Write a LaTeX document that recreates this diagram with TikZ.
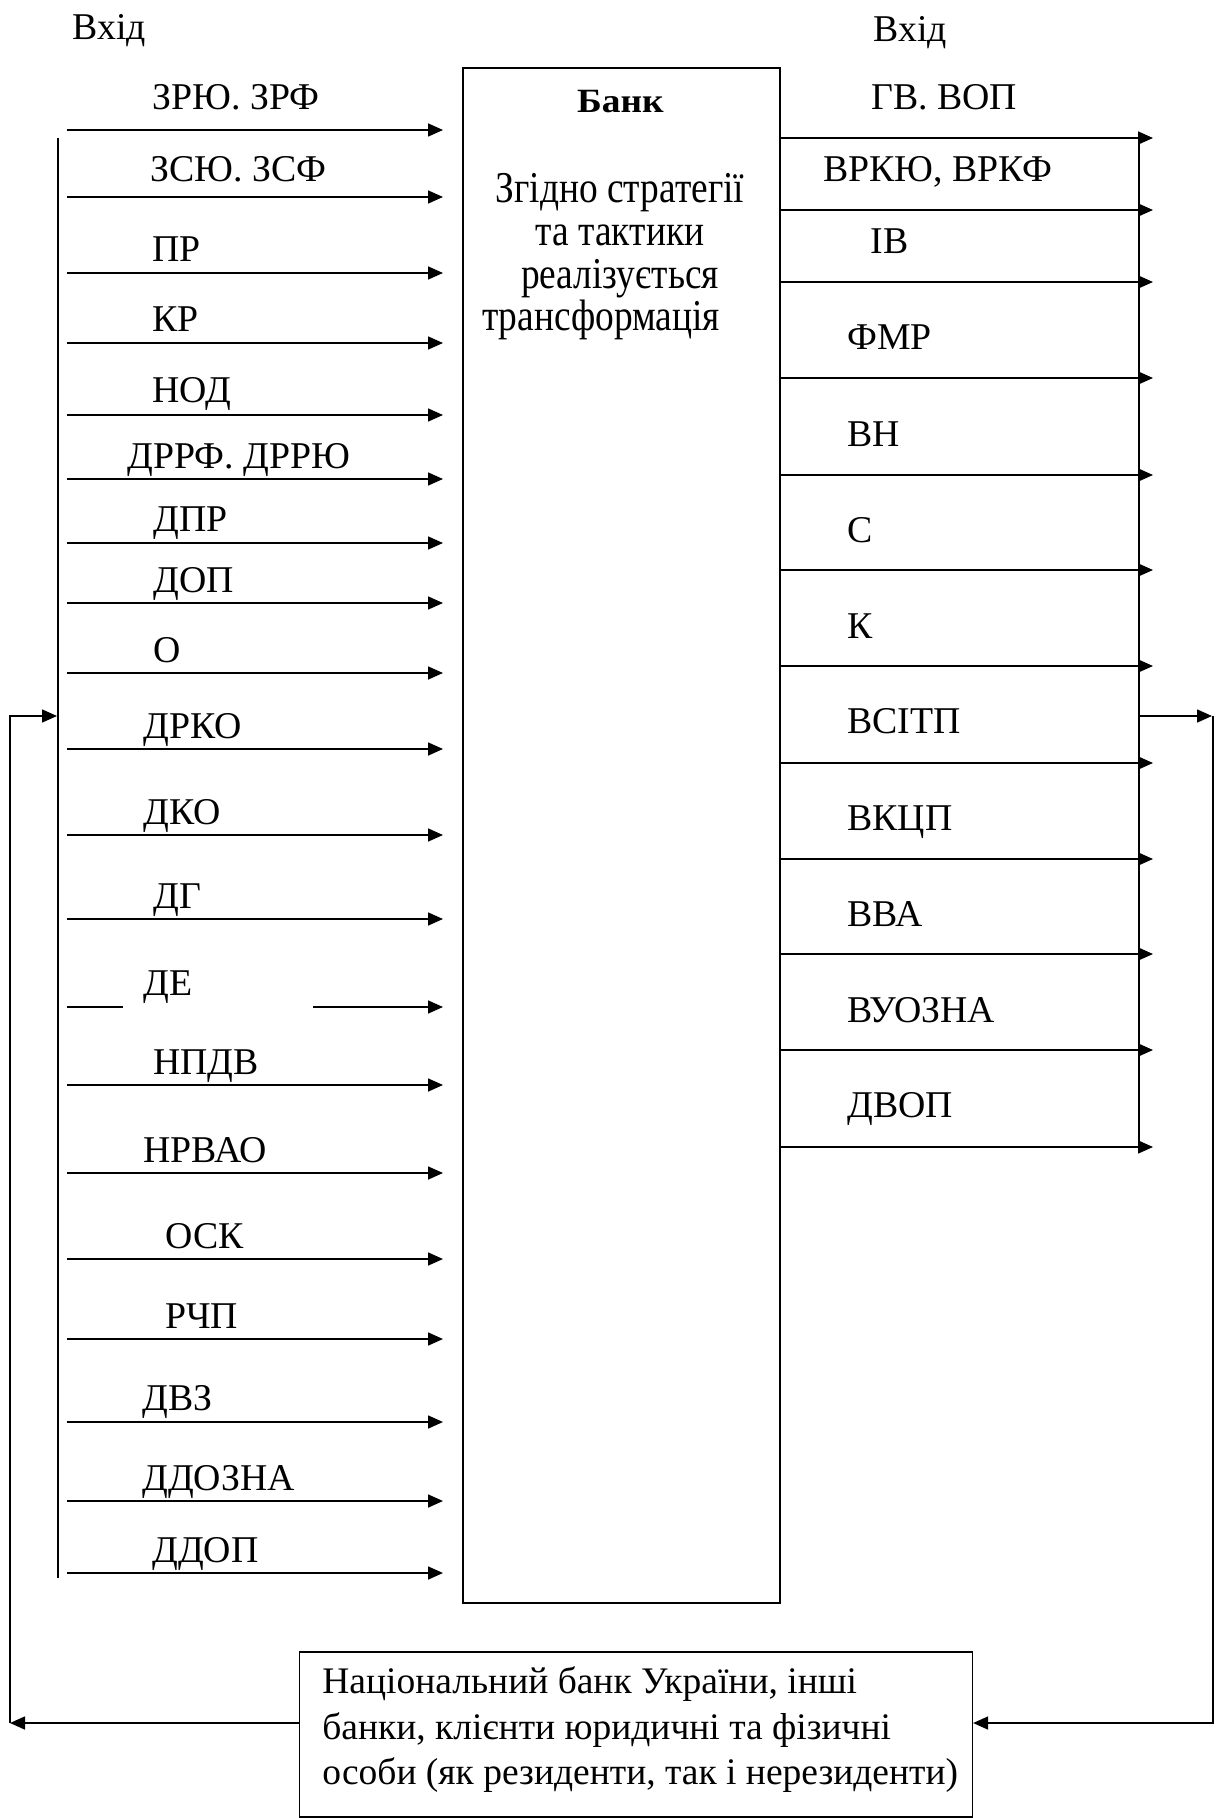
\documentclass[tikz,border=0pt]{standalone}
\usepackage{fontspec}
\setmainfont{Liberation Serif}
\newfontfamily\condfont[FakeStretch=0.85]{Liberation Serif}
\newfontfamily\widefont[FakeStretch=1.1]{Liberation Serif}
\usetikzlibrary{arrows.meta}
\begin{document}
\begin{tikzpicture}[x=0.5pt,y=-0.5pt,
  lbl/.style={anchor=base west,inner sep=0pt,font=\fontsize{18.9}{21}\selectfont},
  bodytxt/.style={anchor=base,inner sep=0pt,font=\condfont\fontsize{22}{21}\selectfont},
  nbtxt/.style={anchor=base west,inner sep=0pt,font=\fontsize{18.75}{21}\selectfont},
  ln/.style={line width=0.8pt},
  arr/.style={line width=0.8pt,-{Triangle[length=7.5pt,width=6.5pt]}},
  box/.style={draw,line width=0.8pt,anchor=north west,inner sep=0pt}]
\useasboundingbox (0,0) rectangle (1216,1818);

% titles
\node[lbl] (inL) at (72,40) {Вхід};
\node[lbl] (inR) at (873,42) {Вхід};

% bank box
\node[box,minimum width=158.5pt,minimum height=767.5pt] (bank) at (462,67) {};
\node[anchor=base,inner sep=0pt,font=\widefont\bfseries\fontsize{17}{19}\selectfont] (banktitle) at (620.5,113) {Банк};
\node[bodytxt] (bankbody) at (620,203) {\vtop{\baselineskip=21.3pt\lineskiplimit=-100pt\halign{\hfil#\hfil\cr
  Згідно стратегії\cr
  та тактики\cr
  реалізується\cr
  трансформація\hspace*{19pt}\cr}}};

% left bus
\coordinate (busTop) at (58,138);
\coordinate (busBot) at (58,1578);
\draw[ln] (busTop) -- (busBot);

% left inputs
\foreach \n/\y/\lx/\by/\t in {
  1/130/152/110/{ЗРЮ. ЗРФ},
  2/197/150/182/{ЗСЮ. ЗСФ},
  3/273/152/262/{ПР},
  4/343/152/332/{КР},
  5/415/152/403/{НОД},
  6/479/127/468/{ДРРФ. ДРРЮ},
  7/543/153/531/{ДПР},
  8/603/153/592/{ДОП},
  9/673/153/662/{О},
  10/749/143/738/{ДРКО},
  11/835/143/824/{ДКО},
  12/919/153/908/{ДГ},
  14/1085/153/1074/{НПДВ},
  15/1173/143/1162/{НРВАО},
  16/1259/165/1248/{ОСК},
  17/1339/165/1328/{РЧП},
  18/1422/142/1410/{ДВЗ},
  19/1501/142/1490/{ДДОЗНА},
  20/1573/152/1562/{ДДОП}}{
  \coordinate (in\n s) at (67,\y);
  \coordinate (in\n e) at (443,\y);
  \node[lbl] (lab\n) at (\lx,\by) {\t};
  \draw[arr] (in\n s) -- (in\n e);
}
% ДЕ (line interrupted under its label)
\coordinate (in13s) at (67,1007);
\coordinate (in13a) at (123,1007);
\coordinate (in13b) at (313,1007);
\coordinate (in13e) at (443,1007);
\node[lbl] (lab13) at (143,995) {ДЕ};
\draw[ln] (in13s) -- (in13a);
\draw[arr] (in13b) -- (in13e);

% right outputs
\coordinate (rbusTop) at (1139,138);
\coordinate (rbusBot) at (1139,1147);
\draw[ln] (rbusTop) -- (rbusBot);
\foreach \n/\y/\lx/\by/\t in {
  1/138/871/110/{ГВ. ВОП},
  2/210/823/182/{ВРКЮ, ВРКФ},
  3/282/870/254/{ІВ},
  4/378/847/350/{ФМР},
  5/475/847/446/{ВН},
  6/570/847/542/{С},
  7/666/847/638/{К},
  8/763/847/733/{ВСІТП},
  9/859/847/830/{ВКЦП},
  10/954/847/926/{ВВА},
  11/1050/847/1022/{ВУОЗНА},
  12/1147/847/1117/{ДВОП}}{
  \coordinate (out\n e) at (1153,\y);
  \node[lbl] (olab\n) at (\lx,\by) {\t};
  \draw[arr] (bank.east |- out\n e) -- (out\n e);
}

% bottom box
\node[box,minimum width=336.5pt,minimum height=82.5pt] (nbu) at (298.5,1651) {};
\node[nbtxt] (nb1) at (322,1693) {Національний банк України, інші};
\node[nbtxt] (nb2) at (322,1739) {банки, клієнти юридичні та фізичні};
\node[nbtxt] (nb3) at (322,1784) {особи (як резиденти, так і нерезиденти)};

% feedback loops
\coordinate (fbL) at (10,1723);
\coordinate (fbLtop) at (10,716);
\coordinate (busIn) at (57,716);
\draw[arr] (nbu.west |- fbL) -- (fbL);
\draw[arr] (fbL) -- (fbLtop) -- (busIn);

\coordinate (fbRs) at (1139,716);
\coordinate (fbRtip) at (1212,716);
\coordinate (fbRtop) at (1213,716);
\coordinate (fbRbot) at (1213,1723);
\draw[arr] (fbRs) -- (fbRtip);
\draw[arr] (fbRtop) -- (fbRbot) -- (nbu.east |- fbRbot);
\end{tikzpicture}
\end{document}
